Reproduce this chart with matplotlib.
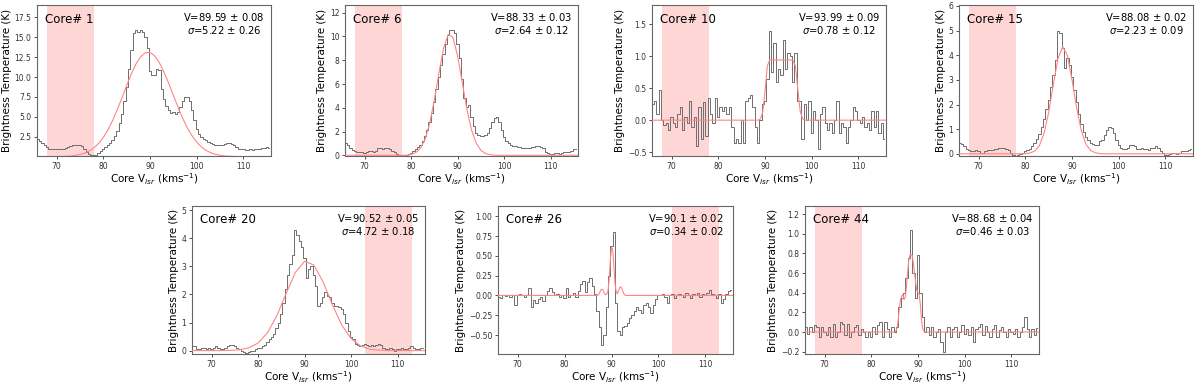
import numpy as np
import matplotlib.pyplot as plt
from matplotlib.ticker import MultipleLocator

# --- spectra: 0.5 km/s channels starting at 66 km/s ---
V_START = 66.0
V_STEP = 0.5

core1 = [2.2, 2.0, 1.7, 1.4, 1.2, 1.0, 1.0, 0.9, 1.0, 0.9,
         1.0, 1.0, 1.1, 1.2, 1.3, 1.4, 1.4, 1.5, 1.4, 1.3,
         1.0, 0.6, 0.3, 0.2, 0.15, 0.2, 0.4, 0.7, 1.0, 1.2,
         1.4, 1.7, 2.1, 2.6, 3.2, 4.2, 5.4, 7.0, 8.8, 11.0,
         13.4, 15.5, 15.9, 15.7, 15.9, 15.6, 15.0, 13.6, 10.8, 10.2,
         10.3, 11.0, 10.9, 8.5, 7.2, 6.4, 5.8, 5.5, 5.6, 5.4,
         5.6, 6.2, 7.0, 7.5, 7.5, 7.0, 5.9, 4.6, 3.5, 2.9,
         2.5, 2.2, 2.1, 1.9, 1.7, 1.6, 1.5, 1.5, 1.4, 1.5,
         1.6, 1.7, 1.7, 1.6, 1.4, 1.2, 1.0, 0.9, 0.9, 0.8,
         0.8, 0.9, 0.8, 0.9, 0.9, 1.0, 1.1, 1.1, 1.2, 1.1]

core6 = [1.07, 0.9, 0.6, 0.45, 0.35, 0.3, 0.3, 0.25, 0.2, 0.25,
         0.4, 0.4, 0.3, 0.4, 0.6, 0.6, 0.5, 0.6, 0.6, 0.5,
         0.4, 0.3, 0.1, 0.05, 0.0, 0.0, 0.0, 0.1, 0.2, 0.4,
         0.5, 0.7, 0.9, 1.2, 1.6, 2.1, 2.8, 3.6, 4.5, 5.6,
         6.6, 7.6, 8.5, 9.4, 10.1, 10.55, 10.55, 10.3, 9.4, 8.2,
         6.4, 4.8, 4.1, 4.2, 3.2, 2.5, 1.9, 1.7, 1.6, 1.6,
         1.7, 1.9, 2.3, 2.8, 3.1, 3.2, 2.8, 2.1, 1.5, 1.2,
         1.0, 0.9, 0.8, 0.8, 0.7, 0.7, 0.6, 0.6, 0.6, 0.6,
         0.7, 0.7, 0.8, 0.8, 0.7, 0.6, 0.3, 0.2, 0.1, 0.1,
         0.2, 0.2, 0.1, 0.2, 0.3, 0.3, 0.3, 0.4, 0.5, 0.5]

core10 = [0.25, 0.3, 0.1, 0.47, 0.0, -0.08, -0.05, -0.15, 0.05, -0.05,
          -0.1, 0.1, 0.2, -0.15, 0.05, -0.05, 0.3, -0.1, 0.05, -0.4,
          0.2, -0.3, 0.28, -0.25, 0.35, 0.1, -0.05, 0.35, 0.05, 0.2,
          0.15, 0.2, 0.1, 0.2, -0.1, -0.35, -0.3, -0.35, 0.0, -0.35,
          0.3, 0.35, 0.4, 0.2, -0.1, -0.35, 0.0, 0.25, 0.3, 0.65,
          1.4, 0.75, 1.2, 0.6, 0.8, 0.7, 1.25, 0.8, 1.05, 1.0,
          0.6, 1.05, 0.3, 0.3, -0.3, 0.25, 0.0, 0.3, -0.2, 0.15,
          0.0, -0.45, 0.1, 0.2, -0.05, -0.15, -0.05, -0.2, 0.0, 0.3,
          -0.2, -0.05, -0.1, -0.35, -0.1, 0.0, 0.2, 0.15, 0.0, -0.05,
          0.05, -0.1, -0.05, -0.15, 0.15, -0.1, 0.15, -0.2, -0.05, -0.3]

core15 = [0.45, 0.4, 0.3, 0.2, 0.15, 0.1, 0.1, 0.15, 0.1, 0.05,
          0.05, 0.1, 0.15, 0.15, 0.15, 0.2, 0.2, 0.25, 0.25, 0.25,
          0.2, 0.15, 0.05, -0.05, -0.1, -0.05, 0.0, 0.05, 0.1, 0.15,
          0.2, 0.3, 0.45, 0.6, 0.8, 1.1, 1.4, 1.8, 2.2, 2.7,
          3.2, 3.8, 5.0, 4.9, 4.3, 3.5, 3.9, 3.6, 3.1, 2.6,
          2.1, 1.6, 1.2, 0.9, 0.7, 0.55, 0.45, 0.4, 0.35, 0.35,
          0.5, 0.55, 0.75, 0.95, 1.1, 1.05, 0.85, 0.55, 0.35, 0.25,
          0.2, 0.2, 0.25, 0.35, 0.35, 0.3, 0.2, 0.2, 0.25, 0.2,
          0.2, 0.15, 0.25, 0.25, 0.3, 0.25, 0.1, 0.05, -0.05, -0.05,
          0.0, 0.05, 0.05, 0.0, 0.05, 0.1, 0.1, 0.1, 0.15, 0.2]

core20 = [0.15, 0.15, 0.05, 0.05, 0.1, 0.1, 0.05, 0.1, 0.05, 0.1,
          0.15, 0.1, 0.05, 0.05, 0.1, 0.15, 0.2, 0.2, 0.15, 0.1,
          0.05, 0.0, -0.05, -0.1, -0.05, 0.0, 0.0, 0.05, 0.1, 0.1,
          0.15, 0.2, 0.3, 0.4, 0.5, 0.6, 0.8, 1.0, 1.3, 1.7,
          2.2, 2.7, 3.1, 3.4, 4.3, 4.1, 3.9, 3.7, 3.3, 2.6,
          2.9, 3.0, 2.7, 2.3, 1.6, 1.7, 1.9, 2.1, 1.95, 1.9,
          1.7, 1.6, 1.6, 1.55, 1.5, 1.3, 1.0, 0.7, 0.5, 0.4,
          0.25, 0.2, 0.15, 0.2, 0.25, 0.2, 0.15, 0.2, 0.15, 0.2,
          0.25, 0.2, 0.1, 0.05, 0.05, 0.1, 0.05, 0.0, 0.05, 0.05,
          0.1, 0.05, 0.05, 0.1, 0.15, 0.1, 0.05, 0.05, 0.1, 0.1]

core26 = [-0.02, -0.03, 0.0, -0.01, 0.0, -0.02, 0.0, -0.12, 0.0, 0.02,
          0.0, -0.02, 0.0, 0.09, -0.14, -0.06, -0.1, -0.04, -0.02, -0.07,
          0.0, 0.05, 0.1, 0.04, 0.0, 0.02, -0.02, 0.0, -0.03, 0.09,
          -0.02, 0.0, 0.03, -0.02, 0.06, 0.14, 0.18, 0.04, 0.17, 0.22,
          0.12, 0.02, -0.2, -0.4, -0.62, -0.5, -0.15, 0.25, 0.62, 0.8,
          -0.1, -0.45, -0.5, -0.4, -0.38, -0.35, -0.28, -0.25, -0.2, -0.15,
          -0.18, -0.22, -0.12, -0.1, -0.15, -0.22, -0.12, -0.05, 0.0, 0.0,
          0.02, -0.02, -0.1, 0.0, 0.02, -0.03, 0.0, 0.02, 0.0, -0.02,
          0.03, 0.0, -0.03, 0.02, 0.0, 0.03, -0.02, 0.02, 0.0, 0.03,
          0.07, 0.02, 0.0, -0.03, 0.02, -0.1, -0.05, 0.02, 0.05, 0.07]

core44 = [0.05, -0.02, 0.05, 0.0, 0.07, 0.05, -0.05, 0.05, 0.0, -0.03,
          0.05, -0.05, 0.08, -0.05, 0.0, 0.1, 0.08, -0.03, 0.08, -0.05,
          0.0, 0.05, 0.07, -0.03, 0.03, 0.0, -0.05, 0.0, -0.05, 0.05,
          -0.02, 0.07, 0.1, -0.05, 0.1, 0.03, -0.05, 0.05, 0.0, 0.05,
          0.25, 0.35, 0.4, 0.55, 0.75, 1.04, 0.6, 0.35, 0.78, 0.4,
          0.15, 0.0, 0.05, -0.03, 0.05, -0.05, 0.0, 0.03, -0.1, -0.2,
          0.0, 0.05, -0.05, 0.03, 0.05, -0.05, 0.0, 0.07, -0.02, 0.03,
          -0.03, 0.05, -0.1, 0.03, 0.05, 0.08, -0.03, 0.06, 0.0, -0.05,
          0.03, 0.07, -0.05, 0.02, 0.05, 0.0, -0.05, 0.03, 0.0, -0.02,
          0.03, -0.05, 0.0, 0.05, 0.15, 0.03, -0.05, 0.03, -0.03, 0.04]

# --- fitted models: (start velocity, step, values), zero outside ---
fit1 = (70.0, 1.0, [0.01, 0.02, 0.04, 0.08, 0.15, 0.27, 0.44, 0.72, 1.11, 1.67,
                    2.42, 3.37, 4.55, 5.92, 7.4, 8.93, 10.4, 11.65, 12.55, 13.05,
                    13.1, 12.65, 11.8, 10.6, 9.2, 7.7, 6.2, 4.8, 3.6, 2.6,
                    1.82, 1.22, 0.78, 0.49, 0.29, 0.17, 0.09, 0.05, 0.03, 0.0])
fit6 = (79.0, 1.0, [0.0, 0.07, 0.22, 0.58, 1.33, 2.67, 4.63, 6.94, 9.03, 10.17,
                    9.92, 8.39, 6.15, 3.9, 2.14, 1.03, 0.42, 0.15, 0.05, 0.01, 0.0])
fit10 = (88.0, 0.5, [0.0, 0.0, 0.02, 0.12, 0.45, 0.85, 0.94, 0.94, 0.94, 0.94,
                     0.94, 0.94, 0.94, 0.94, 0.94, 0.94, 0.93, 0.85, 0.5, 0.15,
                     0.03, 0.0])
fit15 = (79.0, 1.0, [0.0, 0.01, 0.03, 0.11, 0.33, 0.82, 1.68, 2.82, 3.87, 4.35,
                     3.99, 3.0, 1.85, 0.93, 0.38, 0.13, 0.04, 0.01, 0.0])
fit20 = (70.0, 2.0, [0.0, 0.0, 0.01, 0.03, 0.1, 0.27, 0.63, 1.23, 2.02, 2.78,
                     3.18, 3.05, 2.44, 1.63, 0.91, 0.43, 0.17, 0.05, 0.02, 0.0])
fit26 = (87.0, 0.25, [0.0, 0.01, 0.04, 0.07, 0.08, 0.06, 0.02, 0.01, 0.02, 0.06,
                      0.2, 0.45, 0.61, 0.58, 0.38, 0.15, 0.05, 0.02, 0.06, 0.1,
                      0.11, 0.08, 0.04, 0.01, 0.0])
fit44 = (85.0, 0.25, [0.0, 0.01, 0.04, 0.12, 0.24, 0.33, 0.37, 0.38, 0.33, 0.35,
                      0.45, 0.6, 0.72, 0.78, 0.79, 0.78, 0.7, 0.6, 0.5, 0.42,
                      0.4, 0.38, 0.28, 0.12, 0.04, 0.01, 0.0])

names = ['Core# 1', 'Core# 6', 'Core# 10', 'Core# 15', 'Core# 20', 'Core# 26', 'Core# 44']
fit_text = ['V=89.59 $\\pm$ 0.08\n$\\sigma$=5.22 $\\pm$ 0.26',
            'V=88.33 $\\pm$ 0.03\n$\\sigma$=2.64 $\\pm$ 0.12',
            'V=93.99 $\\pm$ 0.09\n$\\sigma$=0.78 $\\pm$ 0.12',
            'V=88.08 $\\pm$ 0.02\n$\\sigma$=2.23 $\\pm$ 0.09',
            'V=90.52 $\\pm$ 0.05\n$\\sigma$=4.72 $\\pm$ 0.18',
            'V=90.1 $\\pm$ 0.02\n$\\sigma$=0.34 $\\pm$ 0.02',
            'V=88.68 $\\pm$ 0.04\n$\\sigma$=0.46 $\\pm$ 0.03']
off_windows = [(68, 78), (68, 78), (68, 78), (68, 78), (103, 113), (103, 113), (68, 78)]
ylims = [(0.08, 19.05), (-0.06, 12.65), (-0.56, 1.8), (-0.09, 6.04),
         (-0.12, 5.15), (-0.74, 1.13), (-0.224, 1.283)]
ytick_steps = [2.5, 2, 0.5, 1, 1, 0.25, 0.2]

spectra = [core1, core6, core10, core15, core20, core26, core44]
fits = [fit1, fit6, fit10, fit15, fit20, fit26, fit44]

# axes boxes in pixels: left, top, right, bottom
W, H = 1200, 384
boxes = [(37, 5, 271, 156), (345, 5, 578, 156), (652, 5, 886, 156), (959, 5, 1193, 156),
         (192, 206, 425, 354), (498, 206, 733, 354), (805, 206, 1039, 354)]

plt.rcParams['font.family'] = 'DejaVu Sans'
fig = plt.figure(figsize=(12, 3.84), dpi=100)

for i in range(7):
    l, t, r, b = boxes[i]
    ax = fig.add_axes([l / W, 1 - b / H, (r - l) / W, (b - t) / H])

    spec = np.array(spectra[i])
    v = V_START + V_STEP * np.arange(len(spec))
    f0, fstep, fvals = fits[i]
    fv = f0 + fstep * np.arange(len(fvals))
    fv = np.concatenate([[65.0], fv, [117.0]])
    fy = np.concatenate([[0.0], fvals, [0.0]])

    ax.axvspan(*off_windows[i], color='#ffd6d6', lw=0, zorder=0)
    ax.step(v, spec, where='mid', color='#6e6e6e', lw=0.7, zorder=2)
    ax.plot(fv, fy, color='#ff8585', lw=0.8, zorder=3)

    ax.set_xlim(65.8, 115.9)
    ax.set_ylim(*ylims[i])
    ax.xaxis.set_major_locator(MultipleLocator(10))
    ax.yaxis.set_major_locator(MultipleLocator(ytick_steps[i]))
    ax.tick_params(labelsize=5.5, length=2.5, width=0.6, pad=1.5,
                   colors='#333333')
    for s in ax.spines.values():
        s.set_color('#666666')
        s.set_linewidth(0.8)

    ax.set_xlabel('Core V$_{lsr}$ (kms$^{-1}$)', fontsize=7.5, labelpad=0.5)
    ax.set_ylabel('Brightness Temperature (K)', fontsize=7.5, labelpad=2)
    ax.text(0.035, 0.95, names[i], transform=ax.transAxes, ha='left', va='top',
            fontsize=8.5)
    ax.text(0.8, 0.96, fit_text[i], transform=ax.transAxes, ha='center', va='top',
            fontsize=7.2, multialignment='center', linespacing=1.1)

fig.savefig('out.png', dpi=100)
